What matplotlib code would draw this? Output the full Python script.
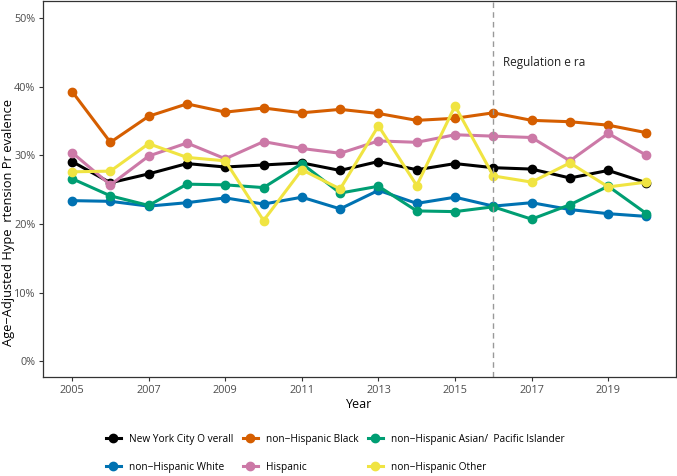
import matplotlib
matplotlib.use("Agg")
import matplotlib.pyplot as plt
from matplotlib.ticker import FuncFormatter

plt.rcParams['font.family'] = ['Open Sans', 'DejaVu Sans']

years = list(range(2005, 2021))

nyc_overall = [29.1, 26.0, 27.3, 28.8, 28.3, 28.6, 28.9, 27.8,
               29.1, 27.9, 28.8, 28.2, 28.0, 26.7, 27.8, 26.0]
nh_black = [39.3, 31.9, 35.7, 37.5, 36.3, 36.9, 36.2, 36.7,
            36.1, 35.1, 35.4, 36.2, 35.1, 34.9, 34.4, 33.3]
nh_asian = [26.6, 24.1, 22.7, 25.8, 25.7, 25.3, 28.8, 24.5,
            25.5, 21.9, 21.8, 22.5, 20.7, 22.8, 25.5, 21.5]
nh_white = [23.4, 23.3, 22.6, 23.1, 23.8, 22.9, 23.9, 22.2,
            24.9, 23.0, 23.9, 22.6, 23.1, 22.1, 21.5, 21.1]
hispanic = [30.4, 25.7, 29.9, 31.8, 29.5, 32.0, 31.0, 30.3,
            32.1, 31.9, 33.0, 32.8, 32.6, 29.2, 33.2, 30.0]
nh_other = [27.6, 27.7, 31.7, 29.7, 29.2, 20.5, 27.9, 25.1,
            34.3, 25.6, 37.2, 27.0, 26.1, 28.9, 25.4, 26.1]

# legend order (filled column-wise, 3 columns)
groups = ["New York City O verall", "non\u2212Hispanic White",
          "non\u2212Hispanic Black", "Hispanic",
          "non\u2212Hispanic Asian/  Pacific Islander", "non\u2212Hispanic Other"]
series = [nyc_overall, nh_white, nh_black, hispanic, nh_asian, nh_other]
colors = ["#000000", "#0072B2", "#D55E00", "#CC79A7", "#009E73", "#F0E442"]

fig = plt.figure(figsize=(6.77, 4.76), dpi=100)
ax = fig.add_axes([0.0635, 0.208, 0.935, 0.79])

for name, vals, c in zip(groups, series, colors):
    ax.plot(years, vals, color=c, lw=2.2, marker='o', ms=6, label=name)

ax.axvline(2016, color='#999999', ls=(0, (4, 3)), lw=1.0)
ax.text(2016.25, 43.5, "Regulation e ra", fontsize=8.5, color='#222222',
        va='center', ha='left')

ax.set_xlim(2004.24, 2020.77)
ax.set_ylim(-2.3, 52.5)
ax.set_xticks([2005, 2007, 2009, 2011, 2013, 2015, 2017, 2019])
ax.set_yticks([0, 10, 20, 30, 40, 50])
ax.yaxis.set_major_formatter(FuncFormatter(lambda v, p: f"{int(v)}%"))
ax.tick_params(labelsize=7.8, labelcolor='#4d4d4d', color='#333333',
               length=3, width=0.8, pad=2.5)
for s in ax.spines.values():
    s.set_color('#333333')
    s.set_linewidth(0.9)

ax.set_xlabel("Year", fontsize=9, labelpad=2)
fig.text(0.013, 1 - 223 / 476, "Age\u2212Adjusted Hype  rtension Pr evalence",
         rotation=90, fontsize=9.3, va='center', ha='center')

fig.legend(loc='lower center', bbox_to_anchor=(0.495, -0.012), ncol=3,
           frameon=False, fontsize=7.3, handlelength=1.5, columnspacing=0.9,
           handletextpad=0.8, labelspacing=1.65)

fig.savefig("out.png", dpi=100)
